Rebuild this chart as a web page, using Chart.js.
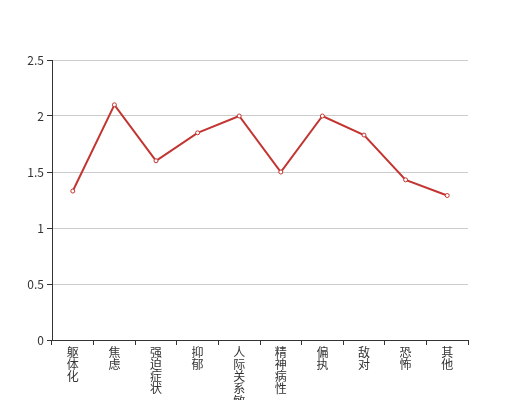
<!DOCTYPE html>
<html>
<head>
<meta charset="utf-8">
<script src="https://cdn.jsdelivr.net/npm/chart.js@4/dist/chart.umd.min.js"></script>
<style>
  html, body { margin: 0; padding: 0; background: #fff; }
  #wrap { width: 520px; height: 400px; }
</style>
</head>
<body>
<div id="wrap"><canvas id="c" width="520" height="400"></canvas></div>
<script>
"use strict";

// ── Data ─────────────────────────────────────────────────────────────────────
const categories = ["躯体化", "焦虑", "强迫症状", "抑郁", "人际关系敏感", "精神病性", "偏执", "敌对", "恐怖", "其他"];
const scores     = [1.33, 2.1, 1.6, 1.85, 2.0, 1.5, 2.0, 1.83, 1.43, 1.29];
const yTicks     = [0, 0.5, 1, 1.5, 2, 2.5];

// ── Colours ──────────────────────────────────────────────────────────────────
const CLR = {
  line:  "#c23531",
  axis:  "#333",
  grid:  "#ccc",
  label: "#333",
};

const FONT = "'Noto Sans CJK SC', 'Noto Sans', sans-serif";

// vertical labels: one character per line
const verticalLabels = categories.map(s => s.split(""));

new Chart(document.getElementById("c"), {
  type: "line",
  data: {
    labels: verticalLabels,
    datasets: [{
      data:                 scores,
      borderColor:          CLR.line,
      borderWidth:          2,
      backgroundColor:      "#fff",
      pointRadius:          2,
      pointBorderWidth:     1,
      pointBorderColor:     CLR.line,
      pointBackgroundColor: "#fff",
      tension:              0,
      fill:                 false,
    }],
  },
  options: {
    responsive:          false,
    animation:           false,
    layout: { padding: { top: 60, right: 52, left: 0, bottom: 0 } },
    plugins: {
      legend:  { display: false },
      tooltip: { enabled: false },
    },
    scales: {
      x: {
        type:   "category",
        offset: true,
        grid: {
          offset:          true,
          drawOnChartArea: false,
          drawTicks:       true,
          tickLength:      5,
          tickColor:       CLR.axis,
        },
        border: { color: CLR.axis, width: 1 },
        ticks: {
          color:       CLR.label,
          font:        { family: FONT, size: 12, lineHeight: 1.02 },
          maxRotation: 0,
          minRotation: 0,
          autoSkip:    false,
          padding:     1,
        },
        afterFit: s => { s.height = 60; },
      },
      y: {
        min: 0,
        max: 2.5,
        afterBuildTicks: s => { s.ticks = yTicks.map(v => ({ value: v })); },
        grid: {
          color:      CLR.grid,
          drawTicks:  true,
          tickLength: 5,
          tickColor:  CLR.axis,
        },
        border: { color: CLR.axis, width: 1 },
        ticks: {
          color:    CLR.label,
          font:     { family: FONT, size: 12 },
          padding:  3,
          callback: v => String(v),
        },
        afterFit: s => { s.width = 52; },
      },
    },
  },
});
</script>
</body>
</html>
